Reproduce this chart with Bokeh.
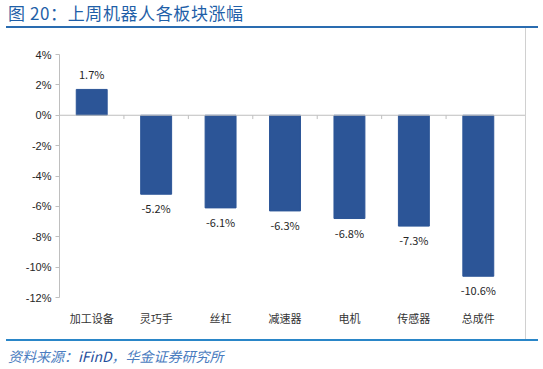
from bokeh.plotting import figure
from bokeh.models import Div, FixedTicker, Span, ColumnDataSource, Range1d
from bokeh.layouts import column
from bokeh.embed import file_html
from bokeh.resources import INLINE
from bokeh.core.properties import value

categories = ["加工设备", "灵巧手", "丝杠", "减速器", "电机", "传感器", "总成件"]
changes = [1.7, -5.2, -6.1, -6.3, -6.8, -7.3, -10.6]
y_ticks = [4, 2, 0, -2, -4, -6, -8, -10, -12]

title_text = "图 20：上周机器人各板块涨幅"
source_text = "资料来源：<span style='color:#1f4e9c'>iFinD</span>，华金证券研究所"

n = len(categories)
xs = [i + 0.5 for i in range(n)]
labels = [f"{v:.1f}%" for v in changes]
pos = [v >= 0 for v in changes]

src_pos = ColumnDataSource(dict(x=[x for x, p in zip(xs, pos) if p],
                                y=[v for v, p in zip(changes, pos) if p],
                                t=[l for l, p in zip(labels, pos) if p]))
src_neg = ColumnDataSource(dict(x=[x for x, p in zip(xs, pos) if not p],
                                y=[v for v, p in zip(changes, pos) if not p],
                                t=[l for l, p in zip(labels, pos) if not p]))

title = Div(text=title_text, width=532, height=28, margin=(0, 0, 0, 6),
            styles={"font-family": "'Noto Sans CJK SC'", "font-size": "17px",
                    "letter-spacing": "0.6px",
                    "color": "#1f5fa8", "line-height": "26px",
                    "border-bottom": "2px solid #2a6cb0", "width": "532px", "height": "28px",
                    "box-sizing": "border-box", "padding-left": "2px"})

p = figure(width=526, height=311, output_backend="svg", toolbar_location=None,
           x_range=Range1d(0, n + 16 / 64.5), y_range=Range1d(-12, 4),
           min_border_left=59, min_border_right=0, min_border_top=26, min_border_bottom=42,
           margin=(0, 0, 0, 0))
p.outline_line_color = None
p.xgrid.visible = False
p.ygrid.visible = False
p.styles = {"border-right": "1px solid #d0d0d0"}

p.vbar(x=xs, top=changes, bottom=0, width=0.48, fill_color="#2c5597",
       line_color="#2c5597")

p.add_layout(Span(location=0, dimension="width", line_color="#bfbfbf", line_width=1))
p.segment(x0=list(range(1, n)), x1=list(range(1, n)), y0=[0] * (n - 1),
          y1=[-0.25] * (n - 1), line_color="#bfbfbf", line_width=1)

p.text(x="x", y="y", text="t", source=src_pos, text_align="center",
       text_baseline="bottom", y_offset=-7, text_font=value("Noto Sans CJK SC"),
       text_font_size="11px", text_color="#262626")
p.text(x="x", y="y", text="t", source=src_neg, text_align="center",
       text_baseline="top", y_offset=6, text_font=value("Noto Sans CJK SC"),
       text_font_size="11px", text_color="#262626")

p.yaxis.ticker = FixedTicker(ticks=y_ticks)
p.yaxis.major_label_overrides = {t: f"{t}%" for t in y_ticks}
p.yaxis.axis_line_color = "#bfbfbf"
p.yaxis.major_tick_line_color = "#bfbfbf"
p.yaxis.major_tick_out = 4
p.yaxis.major_tick_in = 0
p.yaxis.minor_tick_line_color = None
p.yaxis.major_label_text_font = "Liberation Sans"
p.yaxis.major_label_text_font_size = "11px"
p.yaxis.major_label_text_color = "#262626"
p.yaxis.major_label_standoff = 4

p.xaxis.ticker = FixedTicker(ticks=xs)
p.xaxis.major_label_overrides = {x: c for x, c in zip(xs, categories)}
p.xaxis.axis_line_color = None
p.xaxis.major_tick_line_color = None
p.xaxis.minor_tick_line_color = None
p.xaxis.major_label_text_font = "Noto Sans CJK SC"
p.xaxis.major_label_text_font_size = "11px"
p.xaxis.major_label_text_color = "#333333"
p.xaxis.major_label_standoff = 6

footer = Div(text=source_text, width=532, height=30, margin=(0, 0, 0, 6),
             styles={"font-family": "'Noto Sans CJK SC'", "font-size": "14px",
                     "font-style": "italic", "color": "#4a7cc0", "line-height": "30px",
                     "border-top": "2px solid #2a86c8", "width": "532px", "height": "30px",
                     "box-sizing": "border-box", "padding-left": "2px"})

layout = column(title, p, footer, spacing=0)
open("out.html", "w").write(file_html(layout, INLINE))
